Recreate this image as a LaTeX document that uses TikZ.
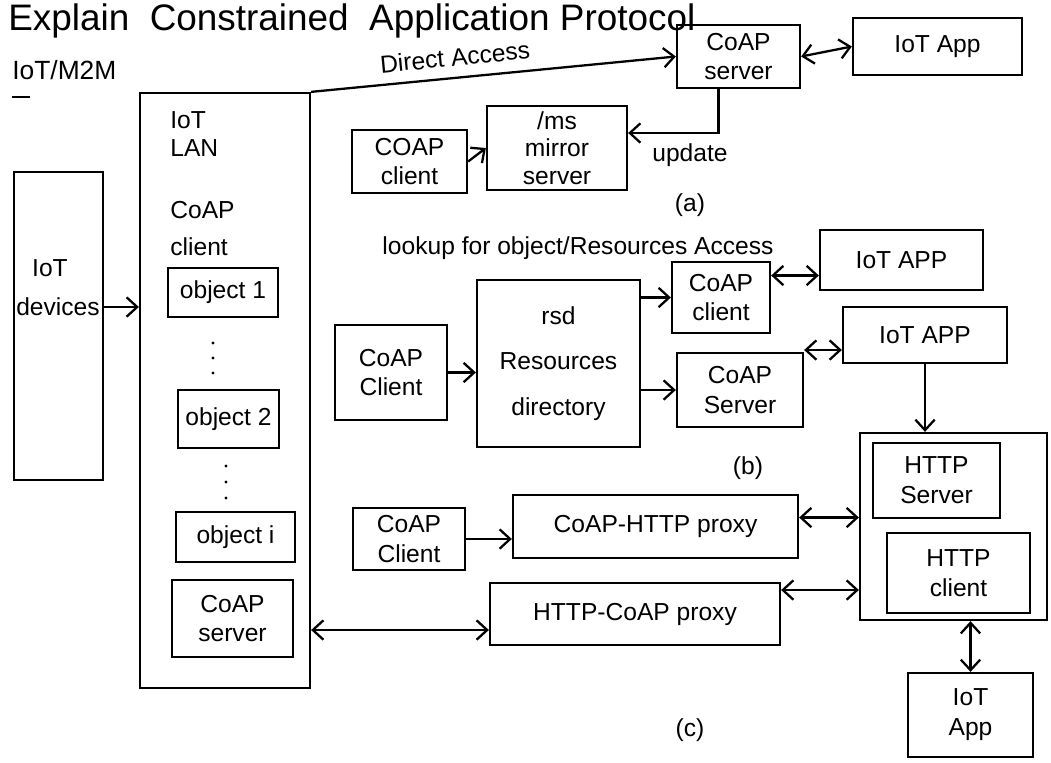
\documentclass[tikz,border=0pt]{standalone}
\usepackage{fontspec}
\setmainfont{Liberation Sans}
\usetikzlibrary{arrows.meta,fit}
\begin{document}
\begin{tikzpicture}[x=0.02cm,y=-0.02cm,
  box/.style={draw,line width=1.3pt,inner sep=0pt},
  bt/.style={font=\fontsize{14}{17}\selectfont,align=center,inner sep=0pt},
  conn/.style={line width=1.3pt},
  arr/.style={conn,-{Straight Barb[length=6pt,width=11pt]}},
  darr/.style={conn,{Straight Barb[length=6pt,width=11pt]}-{Straight Barb[length=6pt,width=11pt]}},
  lbl/.style={font=\fontsize{14}{17}\selectfont,inner sep=0pt}]
\useasboundingbox (0,0) rectangle (1051,762);

% title
\node[lbl,anchor=base west,font=\fontsize{21}{25}\selectfont] (title) at (8,30) {Explain\ \ Constrained\ \ Application Protocol};
\node[lbl,anchor=west,font=\fontsize{15}{18}\selectfont] (m2m) at (12,70) {IoT/M2M};
\draw[line width=1.3pt] (12,97) -- (30,97);

% left: devices
\node[box,fit={(14,172)(103,480)}] (dev) {};
\node[lbl] (devt1) at (50,268) {IoT};
\node[lbl] (devt2) at (58,307) {devices};

% IoT LAN
\node[box,fit={(140,93)(310,688)}] (lan) {};
\node[lbl,anchor=west] (lant1) at (170,120) {IoT};
\node[lbl,anchor=west] (lant2) at (170,148) {LAN};
\node[lbl,anchor=west] (lant3) at (170,210) {CoAP};
\node[lbl,anchor=west] (lant4) at (170,247) {client};
\node[box,fit={(168,268)(278,317)},label={[bt]center:object 1}] (o1) {};
\node[box,fit={(178,390)(279,448)},label={[bt]center:object 2}] (o2) {};
\node[box,fit={(176,512)(295,562)},label={[bt]center:object i}] (oi) {};
\node[box,fit={(172,580)(293,657)},label={[bt]center:CoAP\\server}] (lcs) {};
\foreach \yy in {343,358,373} \fill (213,\yy) circle (1.6);
\foreach \yy in {466,482,498} \fill (226,\yy) circle (1.6);

\draw[arr] ([yshift=0.38cm]dev.east) -- ([yshift=0.38cm]dev.east -| lan.west);

% (a)
\node[box,fit={(677,25)(800,88)},label={[bt]center:CoAP\\server}] (csa) {};
\node[box,fit={(853,18)(1022,75)},label={[bt]center:IoT App}] (appa) {};
\node[box,fit={(487,106)(627,190)},label={[bt,font=\fontsize{14}{15.5}\selectfont]center:/ms\\mirror\\server}] (mir) {};
\node[box,fit={(352,130)(467,193)},label={[bt]center:COAP\\client}] (cca) {};
\draw[arr] (lan.north east) -- node[lbl,above=6pt,pos=0.4,sloped] {Direct Access} (csa.west);
\draw[darr] (csa.east) -- (appa.west);
\draw[arr] (cca.east) -- (mir.west);
\coordinate (ua) at ([xshift=-0.4cm]csa.south);
\coordinate (ub) at ([yshift=0.3cm]mir.east);
\draw[arr] (ua) |- (ub);
\node[lbl] (upd) at (690,155) {update};
\node[lbl] (la) at (690,205) {(a)};

% (b)
\node[lbl] (look) at (578,248) {lookup for object/Resources Access};
\node[box,fit={(335,325)(447,420)},label={[bt]center:CoAP\\Client}] (ccb) {};
\node[box,fit={(477,280)(640,447)},label={[bt,font=\fontsize{14}{26}\selectfont]center:rsd\\Resources\\directory}] (dir) {};
\node[box,fit={(672,262)(770,333)},label={[bt]center:CoAP\\client}] (cclb) {};
\node[box,fit={(677,353)(803,427)},label={[bt]center:CoAP\\Server}] (csb) {};
\node[box,fit={(820,230)(983,290)},label={[bt]center:IoT APP}] (app1) {};
\node[box,fit={(843,307)(1007,363)},label={[bt]center:IoT APP}] (app2) {};
\draw[arr] (ccb.east) -- (ccb.east -| dir.west);
\draw[arr] (dir.east |- cclb.west) -- (cclb.west);
\draw[arr] (dir.east |- csb.west) -- (csb.west);
\coordinate (p1) at ([yshift=0.44cm]cclb.east);
\draw[darr] (p1) -- (p1 -| app1.west);
\coordinate (p2) at ([yshift=0.8cm]csb.east);
\draw[darr] (p2) -- (p2 -| app2.west);
\node[lbl] (lb) at (748,468) {(b)};

% (c)
\node[box,fit={(860,433)(1047,620)}] (http) {};
\node[box,fit={(873,443)(1000,518)},label={[bt]center:HTTP\\Server}] (hs) {};
\node[box,fit={(887,533)(1030,613)},label={[bt]center:HTTP\\client}] (hc) {};
\node[box,fit={(908,673)(1033,757)},label={[bt]center:IoT\\App}] (appc) {};
\draw[arr] (app2.south) -- (app2.south |- http.north);
\draw[darr] (appc.north |- http.south) -- (appc.north);
\node[box,fit={(353,508)(465,570)},label={[bt]center:CoAP\\Client}] (ccc) {};
\node[box,fit={(513,495)(798,558)},label={[bt]center:CoAP-HTTP proxy}] (chp) {};
\node[box,fit={(490,583)(780,645)},label={[bt]center:HTTP-CoAP proxy}] (hcp) {};
\draw[arr] (ccc.east) -- (ccc.east -| chp.west);
\coordinate (p3) at ([yshift=0.18cm]chp.east);
\draw[darr] (p3) -- (p3 -| http.west);
\coordinate (p4) at ([yshift=0.48cm]hcp.east);
\draw[darr] (p4) -- (p4 -| http.west);
\coordinate (p5) at ([yshift=-0.32cm]hcp.west);
\draw[darr] (p5) -- (p5 -| lan.east);
\node[lbl] (lc) at (690,730) {(c)};
\end{tikzpicture}
\end{document}
